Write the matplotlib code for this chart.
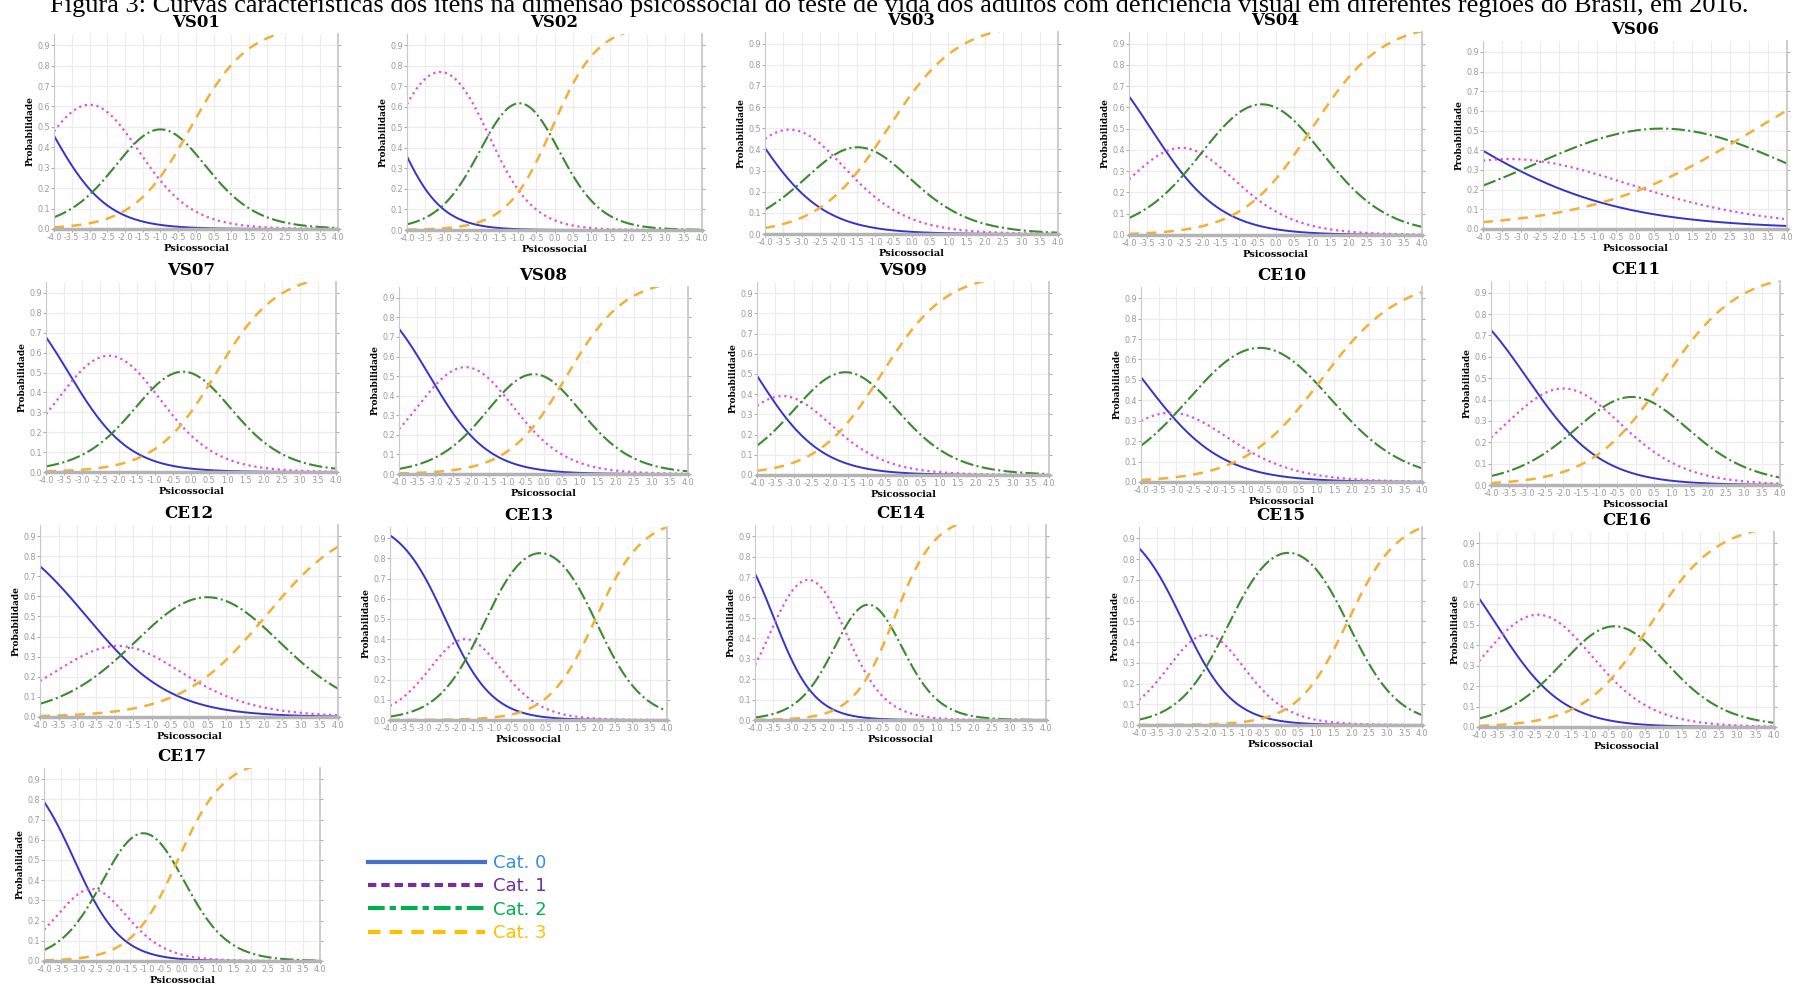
import numpy as np
import matplotlib.pyplot as plt
from matplotlib.lines import Line2D

plt.rcParams['axes.unicode_minus'] = False

# item parameters (graded response model) estimated from the curves
items = ['VS01', 'VS02', 'VS03', 'VS04', 'VS06',
         'VS07', 'VS08', 'VS09', 'CE10', 'CE11',
         'CE12', 'CE13', 'CE14', 'CE15', 'CE16', 'CE17']
disc = [1.24, 1.62, 1.05, 1.05, 0.467,
        1.20, 1.24, 1.13, 0.90, 0.974,
        0.88, 1.475, 1.79, 1.42, 1.114, 1.49]
b1 = [-4.14, -4.36, -4.36, -3.40, -4.89,
      -3.38, -3.15, -4.03, -3.94, -3.00,
      -2.75, -2.40, -3.48, -2.76, -3.52, -3.12]
b2 = [-1.86, -1.84, -2.30, -1.74, -1.71,
      -1.15, -1.175, -2.57, -2.37, -1.00,
      -1.07, -1.25, -1.60, -1.45, -1.30, -2.12]
b3 = [-0.14, -0.06, -0.64, 0.99, 3.11,
      0.70, 0.64, -0.585, 1.13, 0.80,
      2.05, 1.935, -0.17, 1.90, 0.64, -0.12]

categories = ['Cat. 0', 'Cat. 1', 'Cat. 2', 'Cat. 3']
xticks = np.arange(-4, 4.01, 0.5)
yticks = np.arange(0, 0.91, 0.1)

# panel boxes in pixels: left, top, right, bottom
boxes = [(54, 34, 338, 229), (407, 34, 702, 230), (765, 32, 1058, 234),
         (1129, 32, 1422, 235), (1483, 41, 1787, 229),
         (46, 282, 336, 472), (399, 287, 688, 474), (757, 282, 1049, 475),
         (1141, 287, 1422, 482), (1491, 281, 1780, 485),
         (40, 525, 338, 717), (390, 527, 667, 720), (755, 525, 1046, 720),
         (1139, 527, 1422, 725), (1479, 532, 1774, 727),
         (44, 768, 320, 961)]

curve_styles = [dict(color='#3434c8', ls='-', lw=1.4),
                dict(color='#e050e0', ls=':', lw=1.6),
                dict(color='#3a8a30', ls='-.', lw=1.5),
                dict(color='#f2b038', ls=(0, (4, 3)), lw=1.8)]


def grm(a, bs, th):
    ps = [1 / (1 + np.exp(-a * (th - b))) for b in bs]
    return [1 - ps[0], ps[0] - ps[1], ps[1] - ps[2], ps[2]]


W, H = 1798, 984
fig = plt.figure(figsize=(W / 100, H / 100), dpi=100)
theta = np.linspace(-4, 4, 401)

for i, name in enumerate(items):
    l, t, r, b = boxes[i]
    ax = fig.add_axes([l / W, 1 - b / H, (r - l) / W, (b - t) / H])
    probs = grm(disc[i], [b1[i], b2[i], b3[i]], theta)
    for p, st in zip(probs, curve_styles):
        ax.plot(theta, p, **st)
    ax.set_xlim(-4, 4)
    ax.set_ylim(0, 0.955)
    ax.set_xticks(xticks)
    ax.set_xticklabels(['%.1f' % v for v in xticks])
    ax.set_yticks(yticks)
    ax.set_yticklabels(['%.1f' % v for v in yticks])
    ax.grid(True, color='#ececec', lw=0.8)
    ax.set_axisbelow(True)
    ax.tick_params(labelsize=5.8, colors='#999999', length=2, pad=1,
                   right=True, width=0.6)
    ax.spines['top'].set_visible(False)
    ax.spines['left'].set_color('#c8c8c8')
    ax.spines['right'].set_color('#c8c8c8')
    ax.spines['right'].set_linewidth(1.3)
    ax.spines['bottom'].set_color('#b4b4b4')
    ax.spines['bottom'].set_linewidth(2.5)
    ax.set_ylabel('Probabilidade', family='DejaVu Serif', weight='bold',
                  fontsize=6.5, labelpad=2)
    ax.set_xlabel('Psicossocial', family='DejaVu Serif', weight='bold',
                  fontsize=7, labelpad=1)
    ax.set_title(name, family='DejaVu Serif', weight='bold', fontsize=12, pad=5)

# legend
leg_styles = [dict(color='#4472c4', ls='-', lw=3),
              dict(color='#7030a0', ls=(0, (2, 1.2)), lw=3),
              dict(color='#00b050', ls=(0, (4, 1.2, 1.5, 1.2)), lw=3),
              dict(color='#ffc000', ls=(0, (3, 2.2)), lw=3)]
handles = [Line2D([], [], **s) for s in leg_styles]
fig.legend(handles, categories, loc='center left',
           bbox_to_anchor=(368 / W, 1 - 898 / H), frameon=False,
           fontsize=13, handlelength=6.5, handletextpad=0.45,
           labelspacing=0.3, borderpad=0, borderaxespad=0,
           labelcolor=['#3b8fd8', '#7030a0', '#00b050', '#ffc000'])

fig.text(0.5, 1 - 12 / H,
         'Figura 3: Curvas características dos itens na dimensão psicossocial do teste '
         'de vida dos adultos com deficiência visual em diferentes regiões do Brasil, em 2016.',
         family='Liberation Serif', fontsize=19, ha='center', va='baseline')

fig.savefig('out.png', dpi=100)
